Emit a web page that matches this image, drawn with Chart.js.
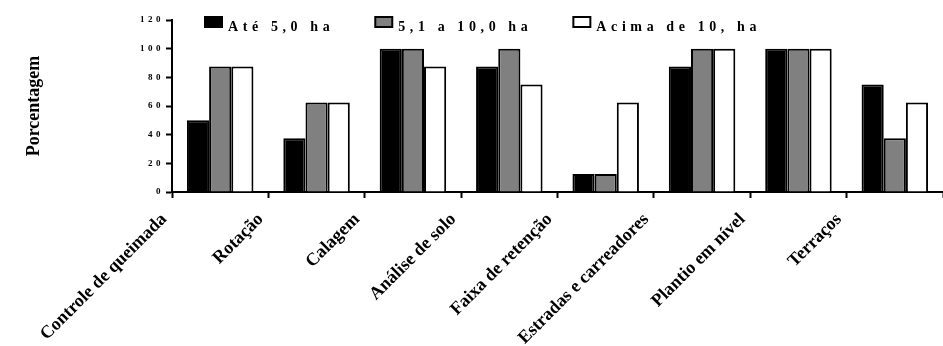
<!DOCTYPE html>
<html>
<head>
<meta charset="utf-8">
<script src="https://cdn.jsdelivr.net/npm/chart.js@4"></script>
<style>
  html, body { margin: 0; padding: 0; background: #fff; }
</style>
</head>
<body>
<canvas id="grafico" width="943" height="346"></canvas>
<script>
// dados do gráfico (porcentagem por tamanho de propriedade)
const categorias = [
  "Controle de queimada",
  "Rotação",
  "Calagem",
  "Análise de solo",
  "Faixa de retenção",
  "Estradas e carreadores",
  "Plantio em nível",
  "Terraços",
];
const rotulosSeries = ["Até 5,0 ha", "5,1 a 10,0 ha", "Acima de 10, ha"];
const ate5ha = [50, 37.5, 100, 87.5, 12.5, 87.5, 100, 75];
const de5a10ha = [87.5, 62.5, 100, 100, 12.5, 100, 100, 37.5];
const acima10ha = [87.5, 62.5, 87.5, 75, 62.5, 100, 100, 62.5];
const ticksY = [0, 20, 40, 60, 80, 100, 120];
const coresSeries = ["#000000", "#808080", "#ffffff"];

const fonteSerif = '"Liberation Serif", "Times New Roman", serif';

// legenda desenhada dentro da área do gráfico, com espaçamento entre letras
const legendaManual = {
  id: "legendaManual",
  afterDraw(chart) {
    const ctx = chart.ctx;
    ctx.save();
    ctx.font = "bold 14px " + fonteSerif;
    ctx.letterSpacing = "4.6px";
    ctx.textBaseline = "alphabetic";
    let x = 205;
    chart.data.datasets.forEach((ds) => {
      ctx.fillStyle = ds.backgroundColor;
      ctx.fillRect(x, 17, 17, 10);
      ctx.lineWidth = 2;
      ctx.strokeStyle = "#000";
      ctx.strokeRect(x, 17, 17, 10);
      ctx.fillStyle = "#000";
      ctx.fillText(ds.label, x + 23, 31);
      x += 23 + ctx.measureText(ds.label).width + 41;
    });
    ctx.restore();
  },
};

const datasets = [ate5ha, de5a10ha, acima10ha].map((valores, i) => ({
  label: rotulosSeries[i],
  data: valores,
  backgroundColor: coresSeries[i],
  borderColor: "#000",
  borderWidth: 2,
  categoryPercentage: 0.69,
  barPercentage: 1,
}));

const chart = new Chart(document.getElementById("grafico"), {
  type: "bar",
  data: { labels: categorias, datasets },
  plugins: [legendaManual],
  options: {
    responsive: false,
    animation: false,
    devicePixelRatio: 1,
    layout: { padding: { top: 20, right: 0, left: 0, bottom: 0 } },
    plugins: {
      legend: { display: false },
      tooltip: { enabled: false },
    },
    scales: {
      x: {
        offset: true,
        grid: {
          offset: true,
          drawOnChartArea: false,
          tickLength: 6,
          tickColor: "#000",
          tickWidth: 2,
        },
        border: { display: true, color: "#000", width: 2 },
        ticks: {
          autoSkip: false,
          minRotation: 45,
          maxRotation: 45,
          labelOffset: -56,
          padding: 11,
          color: "#000",
          font: { family: fonteSerif, weight: "bold", size: 18 },
        },
        afterFit: (escala) => {
          escala.height = 154;
        },
      },
      y: {
        min: 0,
        max: 120,
        afterBuildTicks: (escala) => {
          escala.ticks = ticksY.map((v) => ({ value: v }));
        },
        grid: {
          drawOnChartArea: false,
          tickLength: 6,
          tickColor: "#000",
          tickWidth: 2,
        },
        border: { display: true, color: "#000", width: 2 },
        ticks: {
          padding: 2,
          color: "#000",
          font: { family: fonteSerif, weight: "bold", size: 9 },
        },
        title: {
          display: true,
          text: "Porcentagem",
          color: "#000",
          font: { family: fonteSerif, weight: "bold", size: 18 },
          padding: { top: 24, bottom: 0 },
        },
        afterFit: (escala) => {
          escala.width = 172;
        },
      },
    },
  },
});

// espaçamento entre os algarismos do eixo Y
const escalaY = chart.scales.y;
const desenharRotulosY = escalaY.drawLabels.bind(escalaY);
escalaY.drawLabels = function (area) {
  chart.ctx.save();
  chart.ctx.letterSpacing = "3.5px";
  desenharRotulosY(area);
  chart.ctx.restore();
};
chart.draw();
</script>
</body>
</html>
